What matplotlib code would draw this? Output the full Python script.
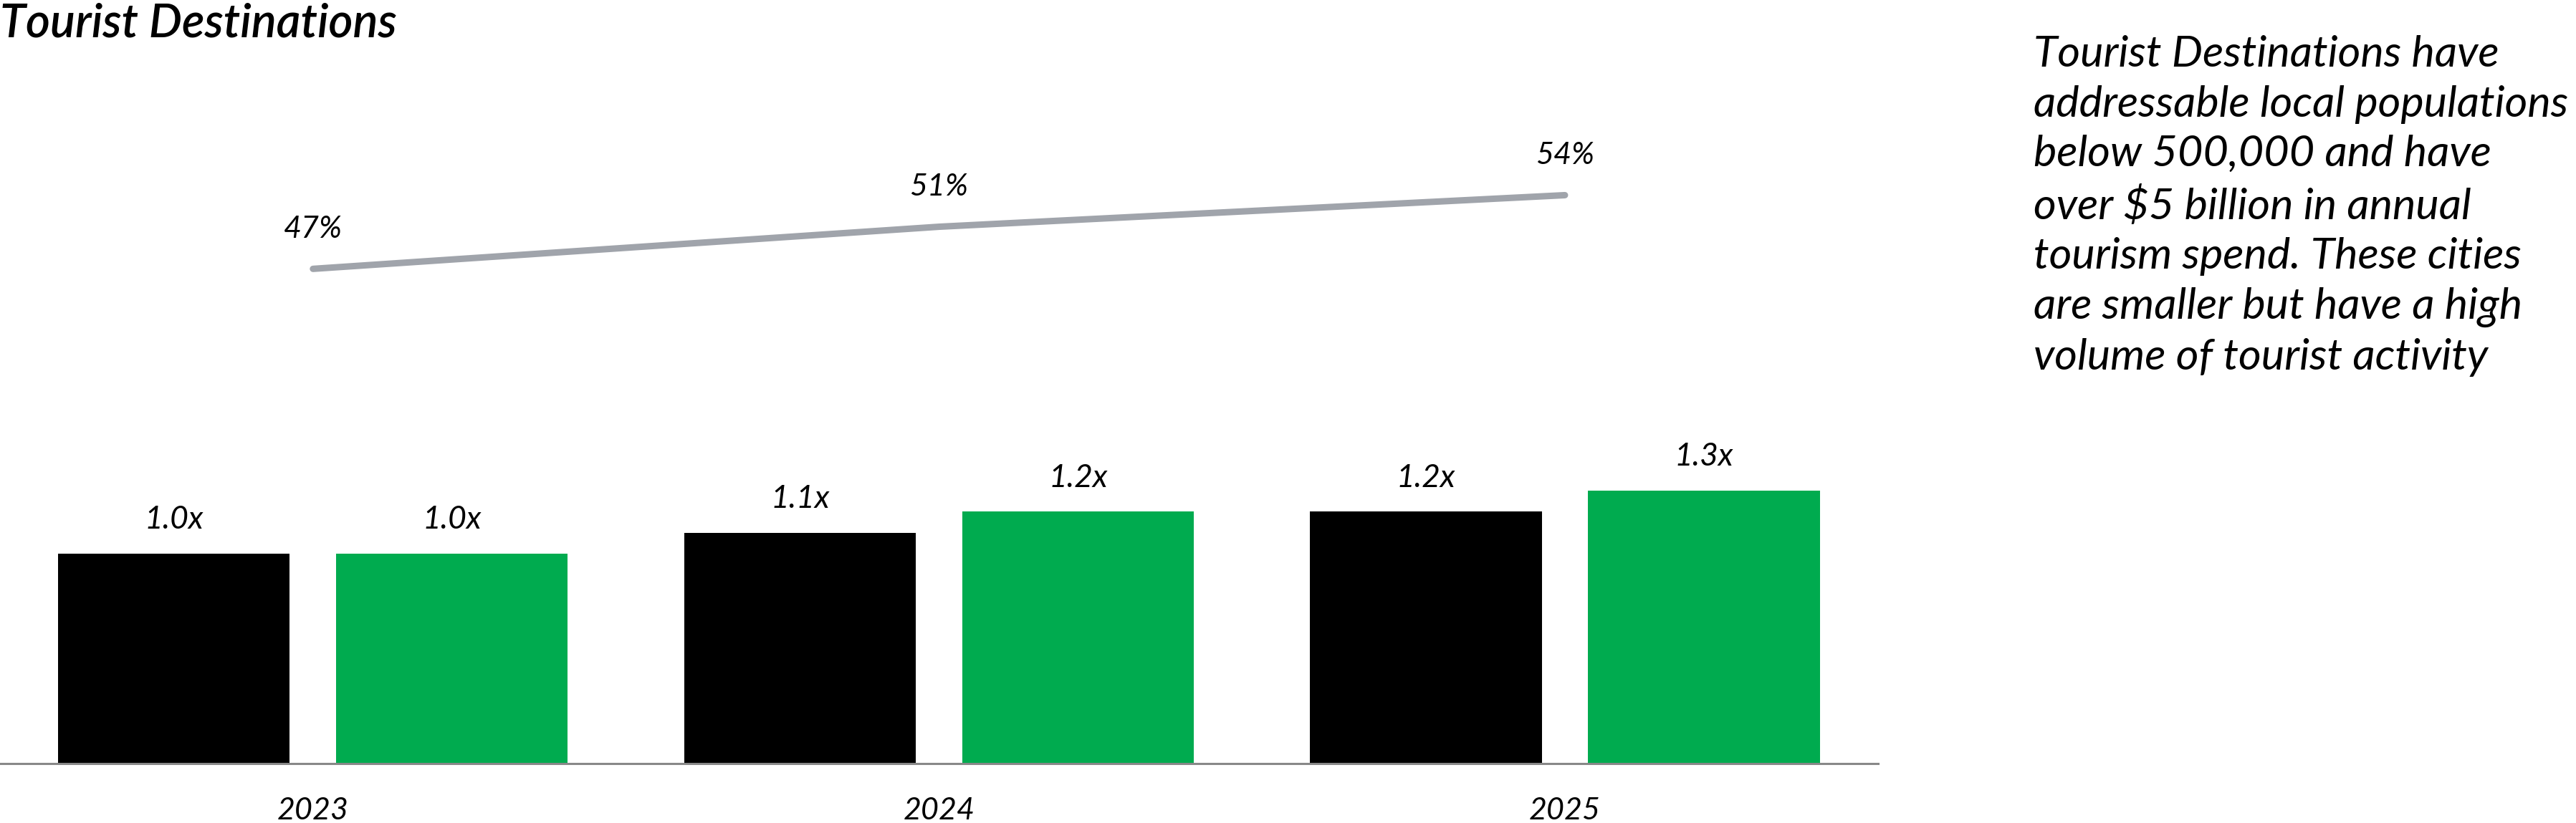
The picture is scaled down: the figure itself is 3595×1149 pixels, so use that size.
import matplotlib.pyplot as plt
import numpy as np

# данные
years = ['2023', '2024', '2025']
black_vals = [1.0, 1.1, 1.2]
green_vals = [1.0, 1.2, 1.3]
bar_labels_black = ['1.0x', '1.1x', '1.2x']
bar_labels_green = ['1.0x', '1.2x', '1.3x']
share = [0.47, 0.51, 0.54]
share_labels = ['47%', '51%', '54%']

title = 'Tourist Destinations'
note = ('Tourist Destinations have\naddressable local populations\nbelow 500,000 and have\n'
        'over $5 billion in annual\ntourism spend. These cities\nare smaller but have a high\n'
        'volume of tourist activity')

plt.rcParams['font.family'] = ['Lato', 'DejaVu Sans']

fig = plt.figure(figsize=(35.95, 11.49), dpi=100)
ax = fig.add_axes([0.0, 0.0722, 0.729, 0.9017])

x = np.arange(len(years))
w = 0.37
off = 0.222
ax.bar(x - off, black_vals, width=w, color='#000000')
ax.bar(x + off, green_vals, width=w, color='#00AB4F')

for xi, v, t in zip(x - off, black_vals, bar_labels_black):
    ax.annotate(t, (xi, v), xytext=(0, 34), textcoords='offset points',
                ha='center', va='center', fontsize=32, style='italic')
for xi, v, t in zip(x + off, green_vals, bar_labels_green):
    ax.annotate(t, (xi, v), xytext=(0, 34), textcoords='offset points',
                ha='center', va='center', fontsize=32, style='italic')

ax.set_xlim(-0.5, 2.5)
ax.set_ylim(0, 3.536)
ax.set_xticks(x)
ax.set_xticklabels(years, fontsize=31, style='italic')
ax.tick_params(axis='x', length=0, pad=34)
ax.set_yticks([])
for s in ['top', 'right', 'left']:
    ax.spines[s].set_visible(False)
ax.spines['bottom'].set_color('#888888')
ax.spines['bottom'].set_linewidth(2.2)

# линия доли
ax2 = ax.twinx()
ax2.plot(x, share, color='#A0A4AB', linewidth=6.5, solid_capstyle='round')
for xi, v, t in zip(x, share, share_labels):
    ax2.annotate(t, (xi, v), xytext=(0, 40), textcoords='offset points',
                 ha='center', va='center', fontsize=31, style='italic')
ax2.set_ylim(0, 0.705)
ax2.set_yticks([])
for s in ax2.spines.values():
    s.set_visible(False)

fig.text(0.0, 0.997, title, fontsize=47, style='italic', fontweight='semibold',
         ha='left', va='top')
fig.text(0.7895, 0.957, note, fontsize=44, style='italic', ha='left', va='top',
         linespacing=1.35)

fig.savefig('out.png', dpi=100)
